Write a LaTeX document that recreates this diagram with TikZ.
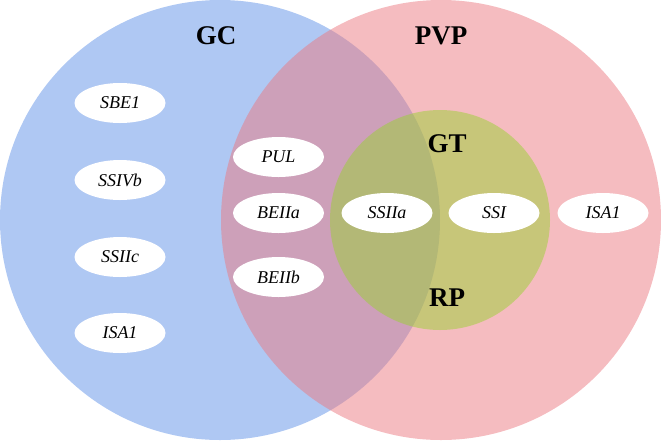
\documentclass[tikz,border=0pt]{standalone}
\usepackage{fontspec}
\setmainfont{Liberation Serif}
\usetikzlibrary{shapes.geometric,positioning}
\definecolor{ctGC}{RGB}{175,200,243}
\definecolor{ctPVP}{RGB}{235,121,129}
\definecolor{ctGT}{RGB}{155,208,52}

\begin{document}
\begin{tikzpicture}[x=1pt,y=-1pt,
    gene/.style={ellipse,fill=white,minimum width=91pt,minimum height=40pt,inner sep=0pt,font=\fontsize{18}{18}\selectfont\itshape},
    setname/.style={font=\fontsize{27}{27}\selectfont\bfseries}]
  \useasboundingbox (0,0) rectangle (661,440);
  % the three sets
  \fill[ctGC] (220,220) circle (220);
  \fill[ctPVP,opacity=0.5] (441,220) circle (220);
  \fill[ctGT,opacity=0.5] (440,220) circle (110);
  % set labels
  \node[setname] (GC) at (216,36) {GC};
  \node[setname] (PVP) at (441,36) {PVP};
  \node[setname] (GT) at (447,144) {GT};
  \node[setname] (RP) at (447,298) {RP};
  % genes
  \foreach \k/\y/\t in {0/103/SBE1,1/180/SSIVb,2/257/SSIIc,3/333/ISA1}
    \node[gene] (L\k) at (120,\y) {\t};
  \foreach \k/\y/\t in {0/157/PUL,1/213/BEIIa,2/277/BEIIb}
    \node[gene] (M\k) at (278.5,\y) {\t};
  \node[gene] (SSIIa) at (387,213) {SSIIa};
  \node[gene] (SSI) at (494,213) {SSI};
  \node[gene] (R0) at (603,213) {ISA1};
\end{tikzpicture}
\end{document}
